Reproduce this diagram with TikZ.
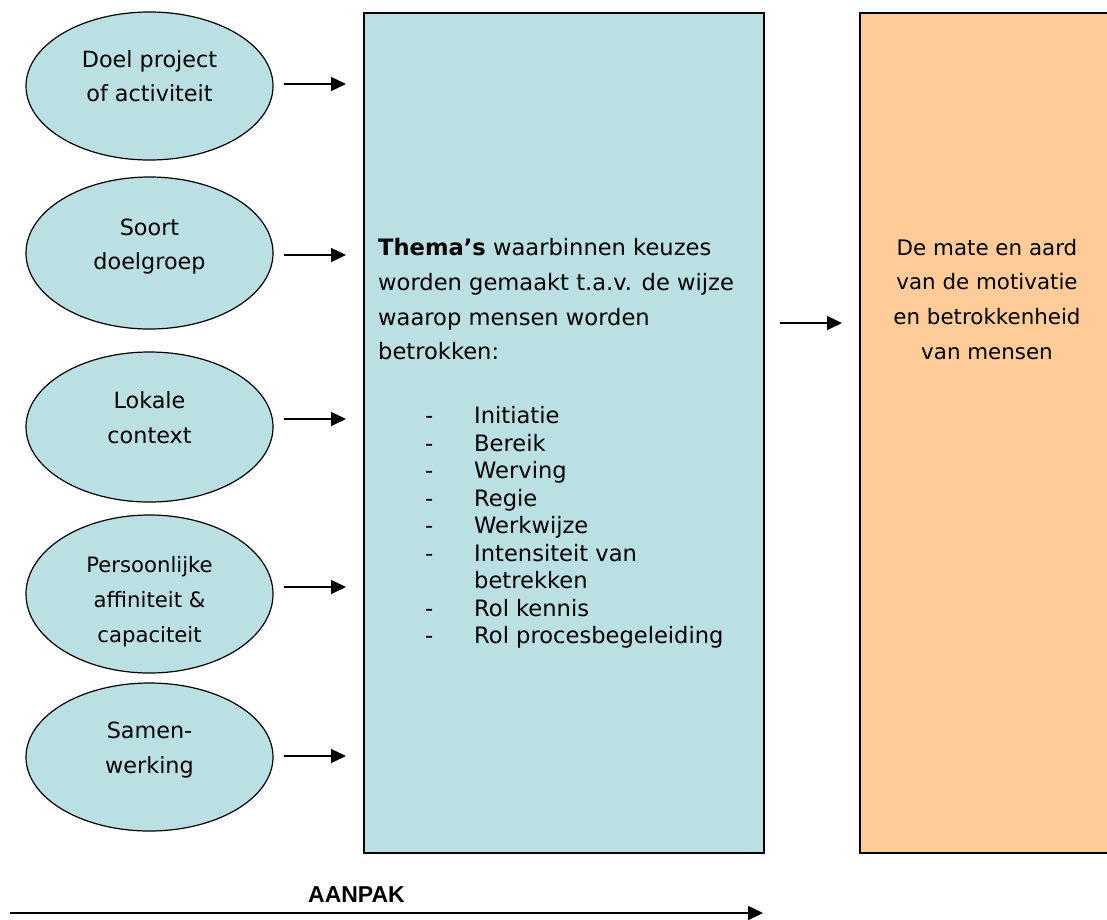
\documentclass[tikz,border=0pt]{standalone}
\usepackage{fontspec}
\setmainfont{DejaVu Sans}
\newfontfamily\arialfont{Liberation Sans}
\usetikzlibrary{arrows.meta,calc,shapes.geometric}
\definecolor{boxblue}{RGB}{187,224,227}
\definecolor{boxorange}{RGB}{255,204,153}
\tikzset{
  ell/.style={ellipse, draw=black, line width=1.2pt, fill=boxblue, minimum width=247pt, minimum height=148pt, inner sep=0pt},
  bigbox/.style={draw=black, line width=1.6pt, anchor=north west, inner sep=0pt},
  lbl/.style={inner sep=0pt, anchor=base},
  lbll/.style={inner sep=0pt, anchor=base west},
  efont/.style={font=\fontsize{22.3}{26}\selectfont},
  bfont/.style={font=\fontsize{22.6}{26}\selectfont},
  arr/.style={line width=1.3pt, -{Triangle[length=15pt,width=14pt]}},
}
\begin{document}
\begin{tikzpicture}[x=1pt,y=-1pt]
\useasboundingbox (0,0) rectangle (1107,919);
\clip (0,0) rectangle (1107,919);

% boxes
\node[bigbox, fill=boxblue, minimum width=400pt, minimum height=840pt] (box) at (363,12) {};
\node[bigbox, fill=boxorange, minimum width=256pt, minimum height=840pt] (out) at (859,12) {};

% ellipses
\node[ell] (e1) at (149.5,86) {};
\node[ell, minimum height=152pt] (e2) at (149.5,253) {};
\node[ell, minimum height=150pt] (e3) at (149.5,427) {};
\node[ell, minimum height=158pt] (e4) at (149.5,594) {};
\node[ell] (e5) at (149.5,757) {};

% ellipse texts
\node[lbl, efont] (t1a) at (149.5,67) {Doel project};
\node[lbl, efont] (t1b) at (149.5,101) {of activiteit};
\node[lbl, efont] (t2a) at (149.5,235) {Soort};
\node[lbl, efont] (t2b) at (149.5,269) {doelgroep};
\node[lbl, efont] (t3a) at (149.5,408) {Lokale};
\node[lbl, efont] (t3b) at (149.5,443) {context};
\node[lbl, font=\fontsize{21.2}{25}\selectfont] (t4a) at (149.5,572) {Persoonlijke};
\node[lbl, font=\fontsize{21.2}{25}\selectfont] (t4b) at (149.5,607) {affiniteit \&};
\node[lbl, font=\fontsize{21.2}{25}\selectfont] (t4c) at (149.5,642) {capaciteit};
\node[lbl, efont] (t5a) at (149.5,738) {Samen-};
\node[lbl, efont] (t5b) at (149.5,773) {werking};

% connectors ellipse -> box
\draw[arr] ([xshift=10pt,yshift=2pt]e1.east) -- ([xshift=-17pt,yshift=2pt]e1.east -| box.west);
\draw[arr] ([xshift=10pt,yshift=-2pt]e2.east) -- ([xshift=-17pt,yshift=-2pt]e2.east -| box.west);
\draw[arr] ([xshift=10pt,yshift=8pt]e3.east) -- ([xshift=-17pt,yshift=8pt]e3.east -| box.west);
\draw[arr] ([xshift=10pt,yshift=7pt]e4.east) -- ([xshift=-17pt,yshift=7pt]e4.east -| box.west);
\draw[arr] ([xshift=10pt,yshift=1pt]e5.east) -- ([xshift=-17pt,yshift=1pt]e5.east -| box.west);

% blue box text
\node[lbll, bfont] (p1) at (378,255) {\textbf{Thema’s} waarbinnen keuzes};
\node[lbll, bfont] (p2) at (378,290) {worden gemaakt t.a.v. de wijze};
\node[lbll, bfont] (p3) at (378,325) {waarop mensen worden};
\node[lbll, bfont] (p4) at (378,359) {betrokken:};
\foreach \y/\t [count=\i] in {423/Initiatie,451/Bereik,478/Werving,506/Regie,533/Werkwijze,561/Intensiteit van,616/Rol kennis,643/Rol procesbegeleiding}{
  \node[lbll, bfont] (d\i) at (425,\y) {-};
  \node[lbll, bfont] (it\i) at (474,\y) {\t};
}
\node[lbll, bfont] (it6b) at (474,588) {betrekken};

% box -> out
\draw[arr] ($(box.north east)+(15,311)$) -- ($(out.north west)+(-17,311)$);

% orange text
\node[lbl, font=\fontsize{21.4}{25}\selectfont] (o1) at (987,255) {De mate en aard};
\node[lbl, font=\fontsize{21.4}{25}\selectfont] (o2) at (987,289) {van de motivatie};
\node[lbl, font=\fontsize{21.4}{25}\selectfont] (o3) at (987,324) {en betrokkenheid};
\node[lbl, font=\fontsize{21.4}{25}\selectfont] (o4) at (987,359) {van mensen};

% AANPAK
\coordinate (a0) at (10,913);
\coordinate (a1) at (763,913);
\draw[line width=1.8pt, -{Triangle[length=15pt,width=14pt]}] (a0) -- (a1);
\node[lbl, font=\arialfont\bfseries\fontsize{23}{26}\selectfont] (aan) at (356.5,902) {AANPAK};
\end{tikzpicture}
\end{document}
